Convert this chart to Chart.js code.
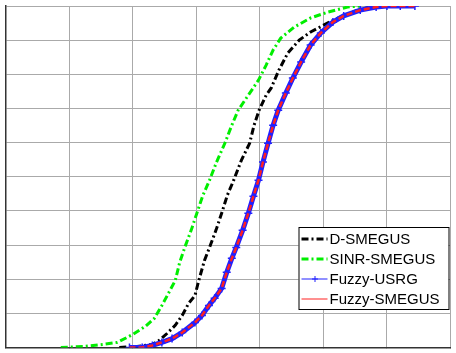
<!DOCTYPE html>
<html>
<head>
<meta charset="utf-8">
<script src="https://cdn.jsdelivr.net/npm/chart.js@4/dist/chart.umd.min.js"></script>
<style>
  html, body { margin: 0; padding: 0; background: #fff; }
  #wrap { width: 456px; height: 353px; }
</style>
</head>
<body>
<div id="wrap"><canvas id="cdf"></canvas></div>
<script>
// CDF curves (x in grid units 0..7, y = probability)
const dX = [1.79, 2.07, 2.31, 2.42, 2.54, 2.67, 2.78, 2.88, 2.98, 3.04, 3.13, 3.21, 3.31, 3.40, 3.49, 3.59, 3.71, 3.84, 3.91, 3.99, 4.10, 4.18, 4.30, 4.44, 4.62, 4.80, 5.16, 5.54, 5.74, 5.89];
const dY = [0.000, 0.003, 0.009, 0.021, 0.041, 0.065, 0.094, 0.129, 0.152, 0.196, 0.255, 0.293, 0.343, 0.393, 0.446, 0.490, 0.548, 0.598, 0.651, 0.695, 0.739, 0.760, 0.812, 0.862, 0.900, 0.924, 0.959, 0.988, 0.997, 1.000];

const sX = [0.87, 1.22, 1.53, 1.76, 2.00, 2.20, 2.34, 2.46, 2.57, 2.67, 2.74, 2.82, 2.92, 3.01, 3.10, 3.21, 3.32, 3.45, 3.56, 3.66, 3.82, 3.98, 4.10, 4.21, 4.33, 4.54, 4.80, 5.07, 5.38, 5.58];
const sY = [0.000, 0.003, 0.009, 0.015, 0.038, 0.062, 0.085, 0.123, 0.161, 0.196, 0.249, 0.293, 0.343, 0.393, 0.443, 0.490, 0.543, 0.598, 0.651, 0.695, 0.739, 0.783, 0.827, 0.871, 0.906, 0.938, 0.965, 0.982, 0.997, 1.000];

const fX = [1.95, 2.15, 2.31, 2.46, 2.62, 2.78, 2.98, 3.09, 3.20, 3.29, 3.40, 3.48, 3.56, 3.63, 3.73, 3.82, 3.90, 3.98, 4.05, 4.13, 4.21, 4.29, 4.41, 4.52, 4.65, 4.80, 4.96, 5.15, 5.32, 5.58, 5.83, 6.00, 6.21, 6.44];
const fY = [0.000, 0.000, 0.006, 0.015, 0.026, 0.044, 0.073, 0.094, 0.123, 0.144, 0.173, 0.220, 0.261, 0.293, 0.343, 0.393, 0.443, 0.490, 0.543, 0.598, 0.651, 0.695, 0.745, 0.789, 0.836, 0.886, 0.921, 0.953, 0.971, 0.988, 0.997, 1.000, 1.000, 1.000];

const seriesNames = ['D-SMEGUS', 'SINR-SMEGUS', 'Fuzzy-USRG', 'Fuzzy-SMEGUS'];

function pts(xs, ys) {
  return xs.map((x, i) => ({ x, y: ys[i] }));
}

// legend drawn inside the plot, bottom right like the original
const boxLegend = {
  id: 'boxLegend',
  afterDraw(chart) {
    const ctx = chart.ctx;
    const area = chart.chartArea;
    const w = 150, h = 82;
    const x0 = area.right - 2 - w, y0 = 227;
    ctx.save();
    ctx.fillStyle = '#fff';
    ctx.fillRect(x0, y0, w, h);
    ctx.strokeStyle = '#000';
    ctx.lineWidth = 1;
    ctx.setLineDash([]);
    ctx.strokeRect(x0 + 0.5, y0 + 0.5, w, h);
    ctx.font = '15px "Liberation Sans", Arial, sans-serif';
    ctx.textBaseline = 'middle';
    chart.data.datasets.forEach((ds, i) => {
      const y = y0 + 12 + i * 20;
      ctx.strokeStyle = ds.borderColor;
      ctx.lineWidth = ds.legendWidth;
      ctx.setLineDash(ds.legendDash || []);
      ctx.beginPath();
      ctx.moveTo(x0 + 3, y);
      ctx.lineTo(x0 + 29, y);
      ctx.stroke();
      if (ds.pointStyle === 'cross') {
        ctx.setLineDash([]);
        ctx.lineWidth = 1;
        ctx.beginPath();
        ctx.moveTo(x0 + 16.5, y - 3); ctx.lineTo(x0 + 16.5, y + 3);
        ctx.moveTo(x0 + 13.5, y); ctx.lineTo(x0 + 19.5, y);
        ctx.stroke();
      }
      ctx.fillStyle = '#000';
      ctx.fillText(ds.label, x0 + 31, y + 1);
    });
    ctx.restore();
  }
};

new Chart(document.getElementById('cdf'), {
  type: 'line',
  data: {
    datasets: [
      {
        label: seriesNames[0],
        data: pts(dX, dY),
        borderColor: '#000000',
        borderWidth: 3,
        legendWidth: 3,
        borderDash: [7, 3, 2, 3],
        legendDash: [7, 3, 2, 3],
        pointRadius: 0,
        tension: 0,
        order: 2
      },
      {
        label: seriesNames[1],
        data: pts(sX, sY),
        borderColor: '#00ee00',
        borderWidth: 3,
        legendWidth: 3,
        borderDash: [7, 3, 2, 3],
        legendDash: [7, 3, 2, 3],
        pointRadius: 0,
        tension: 0,
        order: 3
      },
      {
        label: seriesNames[2],
        data: pts(fX, fY),
        borderColor: '#2020ff',
        borderWidth: 5,
        legendWidth: 1,
        pointStyle: 'cross',
        pointRadius: 4,
        pointBorderWidth: 1.5,
        pointBorderColor: '#2020ff',
        tension: 0,
        order: 1
      },
      {
        label: seriesNames[3],
        data: pts(fX, fY),
        borderColor: '#ff2020',
        borderWidth: 2.5,
        legendWidth: 1,
        borderDash: [6, 3],
        pointRadius: 0,
        tension: 0,
        order: 0
      }
    ]
  },
  options: {
    responsive: true,
    maintainAspectRatio: false,
    animation: false,
    layout: { padding: { left: 2, top: 6, right: 4, bottom: 5 } },
    plugins: {
      legend: { display: false },
      tooltip: { enabled: false }
    },
    scales: {
      x: {
        type: 'linear',
        min: 0,
        max: 7,
        ticks: { display: false, stepSize: 1 },
        grid: { color: '#aaaaaa', lineWidth: 1, tickLength: 0 },
        border: { color: '#333', width: 1.5 }
      },
      y: {
        min: 0,
        max: 1,
        ticks: { display: false, stepSize: 0.1 },
        grid: { color: '#aaaaaa', lineWidth: 1, tickLength: 0 },
        border: { color: '#333', width: 1.5 }
      }
    }
  },
  plugins: [boxLegend]
});
</script>
</body>
</html>
